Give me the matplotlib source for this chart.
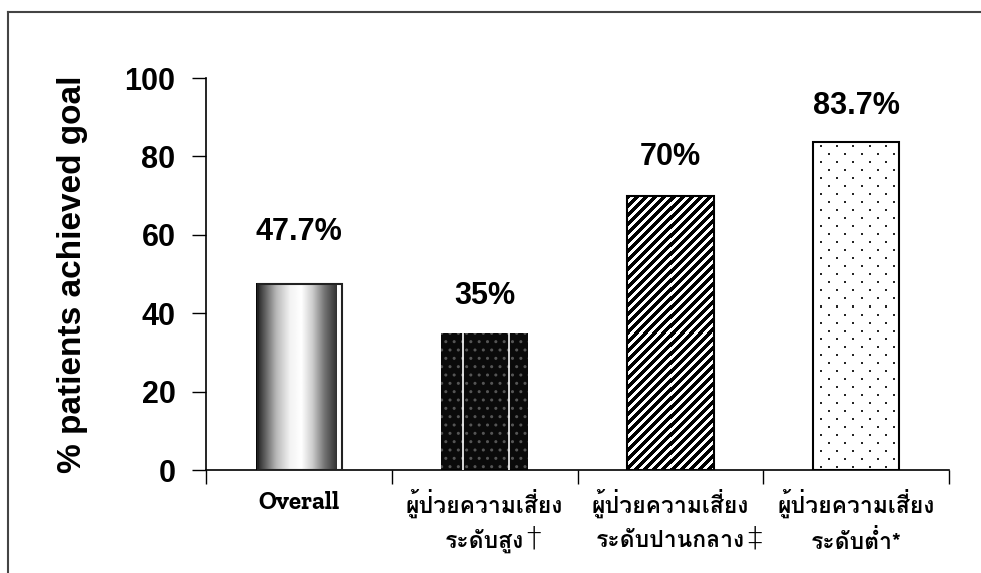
import numpy as np
import matplotlib
matplotlib.use("Agg")
import matplotlib.pyplot as plt
from matplotlib.lines import Line2D
from matplotlib.patches import Rectangle

# data
line1 = ["Overall", "ผู้ป่วยความเสี่ยง", "ผู้ป่วยความเสี่ยง", "ผู้ป่วยความเสี่ยง"]
line2 = ["", "ระดับสูง", "ระดับปานกลาง", "ระดับต่ำ*"]
marks = ["", "\u2020", "\u2021", ""]
values = [47.7, 35, 70, 83.7]
value_text = ["47.7%", "35%", "70%", "83.7%"]
yticks = [0, 20, 40, 60, 80, 100]

arial = ["Liberation Sans", "DejaVu Sans"]
thai = ["Loma", "Noto Sans Thai", "DejaVu Sans"]
slab = ["Roboto Slab", "Zilla Slab", "DejaVu Serif"]

fig = plt.figure(figsize=(9.81, 5.73), dpi=100)
ax = fig.add_axes([206 / 981, 1 - 470 / 573, 743 / 981, 392 / 573])
ax.set_xlim(-0.5, 3.5)
ax.set_ylim(0, 100)

x = np.arange(len(values))
w = 0.465


def bar_pixels(xc, h):
    # size of a bar in screen pixels
    p0 = ax.transData.transform((xc - w / 2, 0))
    p1 = ax.transData.transform((xc + w / 2, h))
    return int(round(p1[0] - p0[0])), int(round(p1[1] - p0[1]))


def texture(xc, h, img, **kw):
    ax.imshow(img, extent=[xc - w / 2, xc + w / 2, 0, h], aspect="auto",
              zorder=2, **kw)


# bar 1: grey cylinder look + offset outline
k_pos = [0, 0.04, 0.12, 0.25, 0.42, 0.56, 0.7, 0.85, 1.0]
k_val = [0.0, 0.2, 0.4, 0.72, 0.95, 1.0, 0.8, 0.45, 0.2]
grad = np.interp(np.linspace(0, 1, 200), k_pos, k_val)
ax.imshow(grad[None, :], cmap="gray", vmin=0, vmax=1, aspect="auto",
          extent=[x[0] - w / 2, x[0] + w / 2 - 0.03, 0, values[0]],
          interpolation="bilinear", zorder=2)
ax.add_patch(Rectangle((x[0] - w / 2 + 0.01, 0), w - 0.01, values[0] - 0.3,
                       fill=False, ec="#222222", lw=1.5, zorder=3))

# bar 2: black with faint dots, two white lines
ax.bar(x[1], values[1], w, color="#0a0a0a", lw=0, zorder=2)
ax.bar(x[1], values[1], w, color="none", ec="#555555", lw=0, hatch="..", zorder=3)
for f in [0.25, 0.78]:
    xx = x[1] - w / 2 + f * w
    ax.plot([xx, xx], [0, values[1]], color="white", lw=1.2, zorder=4)

# bar 3: thick diagonal stripes
pw, ph = bar_pixels(x[2], values[2])
r, c = np.mgrid[0:ph, 0:pw]
stripes = ((r + c) % 9 < 5).astype(float)
texture(x[2], values[2], 1 - stripes, cmap="gray", vmin=0, vmax=1,
        interpolation="nearest")
ax.add_patch(Rectangle((x[2] - w / 2, 0), w, values[2], fill=False,
                       ec="black", lw=1.5, zorder=3))

# bar 4: sparse staggered dots
pw, ph = bar_pixels(x[3], values[3])
r, c = np.mgrid[0:ph, 0:pw]
row = (r - 4) // 8
dots = ((r - 4) % 8 < 2) & ((c - 7 + (row % 2) * 8) % 16 < 2)
texture(x[3], values[3], 1 - 0.85 * dots.astype(float), cmap="gray",
        vmin=0, vmax=1, interpolation="nearest")
ax.add_patch(Rectangle((x[3] - w / 2, 0), w, values[3], fill=False,
                       ec="black", lw=1.5, zorder=3))

# value labels
pads = [36, 22, 24, 21]
for xi, v, t, pd_ in zip(x, values, value_text, pads):
    ax.annotate(t, (xi, v), xytext=(0, pd_), textcoords="offset pixels",
                ha="center", va="bottom", fontsize=22, fontweight="bold",
                family=arial)

ax.set_xlim(-0.5, 3.5)
ax.set_ylim(0, 100)
ax.set_yticks(yticks)
ax.set_yticklabels([str(t) for t in yticks], fontsize=22, fontweight="bold",
                   family=arial)
ax.set_xticks(np.arange(-0.5, 4, 1))
ax.set_xticklabels([])
ax.tick_params(axis="y", direction="out", length=10, width=1, pad=12)
ax.tick_params(axis="x", direction="out", length=10, width=1)
ax.spines["top"].set_visible(False)
ax.spines["right"].set_visible(False)
for s in ["left", "bottom"]:
    ax.spines[s].set_linewidth(1.2)

ax.set_ylabel("% patients achieved goal", fontsize=24, fontweight="bold",
              family=arial, labelpad=26)

# category labels (two lines, daggers as small superscripts)
tr = ax.get_xaxis_transform()
for i in range(len(line1)):
    if i == 0:
        ax.text(x[i], -0.085, line1[i], transform=tr, ha="center", va="center",
                fontsize=18, fontweight="bold", family=slab)
        continue
    ax.text(x[i], -0.085, line1[i], transform=tr, ha="center", va="center",
            fontsize=16.5, fontweight="bold", family=thai)
    t2 = ax.text(x[i], -0.18, line2[i], transform=tr, ha="center", va="center",
                 fontsize=16.5, fontweight="bold", family=thai)
    if marks[i]:
        ax.annotate(marks[i], xy=(1, 0.6), xycoords=t2, xytext=(2, 0),
                    textcoords="offset pixels", ha="left", va="center",
                    fontsize=21, fontweight="light", family=["DejaVu Sans"])

# outer frame, top and left edges only
fig.add_artist(Line2D([8 / 981, 8 / 981], [0, 1 - 12 / 573], color="#444444",
                      lw=1.5, transform=fig.transFigure))
fig.add_artist(Line2D([8 / 981, 1], [1 - 12 / 573, 1 - 12 / 573],
                      color="#444444", lw=1.5, transform=fig.transFigure))

fig.savefig("out.png", dpi=100)
